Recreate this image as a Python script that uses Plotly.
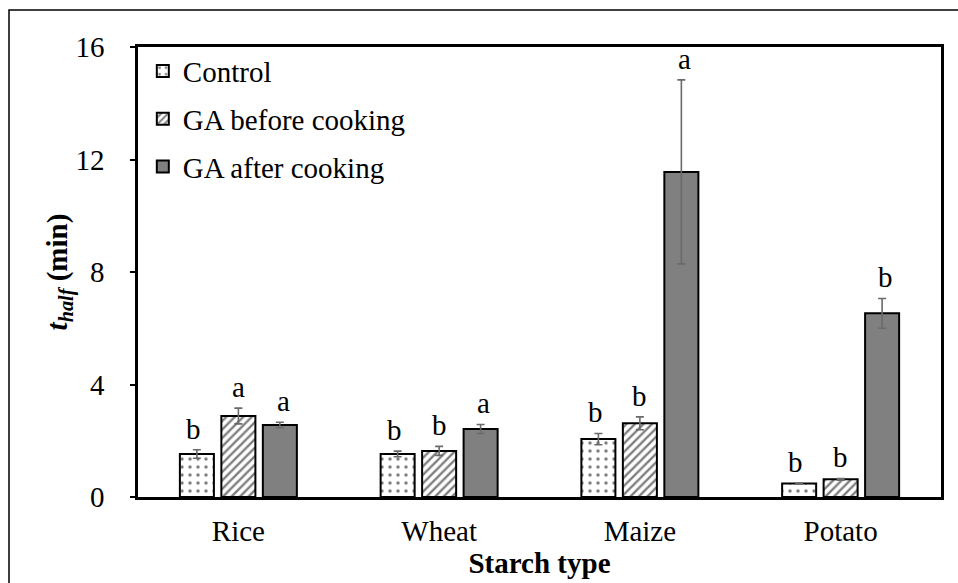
import plotly.graph_objects as go

# Starch digestion half-time by starch type and gum arabic treatment
starch_types = ["Rice", "Wheat", "Maize", "Potato"]
series_names = ["Control", "GA before cooking", "GA after cooking"]

control_vals = [1.53, 1.53, 2.06, 0.48]
control_err = [0.15, 0.10, 0.20, 0.02]
before_vals = [2.88, 1.64, 2.62, 0.63]
before_err = [0.28, 0.16, 0.23, 0.03]
after_vals = [2.56, 2.42, 11.56, 6.53]
after_err = [0.10, 0.16, 3.27, 0.53]

control_letters = ["b", "b", "b", "b"]
before_letters = ["a", "b", "b", "b"]
after_letters = ["a", "a", "a", "b"]

y_ticks = [0, 4, 8, 12, 16]

FONT = "Liberation Serif"
FS = 29
ERR_COLOR = "#6a6a6a"

styles = [
    dict(color="white", pattern=dict(shape=".", fgcolor="black", bgcolor="white", size=8, solidity=0.14)),
    dict(color="white", pattern=dict(shape="/", fgcolor="black", bgcolor="white", size=6, solidity=0.4)),
    dict(color="#808080"),
]

values = [control_vals, before_vals, after_vals]
errors = [control_err, before_err, after_err]
letters = [control_letters, before_letters, after_letters]

fig = go.Figure()
for i, name in enumerate(series_names):
    fig.add_trace(go.Bar(
        x=starch_types,
        y=values[i],
        name=name,
        legendgroup=name,
        marker=dict(line=dict(color="black", width=2), **styles[i]),
        error_y=dict(type="data", array=errors[i], color=ERR_COLOR, thickness=1.6, width=4),
    ))

# significance letters above each bar
offsets = [-44.7, 0, 44.7]
for i in range(3):
    for j, cat in enumerate(starch_types):
        fig.add_annotation(
            x=cat, y=values[i][j] + errors[i][j], xref="x", yref="y",
            text=letters[i][j], showarrow=False,
            xshift=offsets[i], yanchor="bottom", yshift=3,
            font=dict(family=FONT, size=FS, color="black"),
        )

# outer frame of the figure
fig.add_shape(type="rect", xref="paper", yref="paper",
              x0=(9 - 138) / 803, x1=(962 - 138) / 803,
              y0=(497 - 590) / 450, y1=1 + (47 - 10) / 450,
              line=dict(color="black", width=1.5), fillcolor="rgba(0,0,0,0)", layer="below")

fig.update_layout(
    width=958, height=583,
    margin=dict(l=138, r=17, t=47, b=86),
    paper_bgcolor="white", plot_bgcolor="white",
    barmode="group", bargap=0.38, bargroupgap=0.18,
    font=dict(family=FONT, size=FS, color="black"),
    showlegend=True,
    legend=dict(x=0.006, y=1.003, xanchor="left", yanchor="top",
                bgcolor="rgba(0,0,0,0)", traceorder="grouped", tracegroupgap=7,
                font=dict(family=FONT, size=FS, color="black"),
                itemclick=False),
    xaxis=dict(
        showline=True, linecolor="black", linewidth=2.5, mirror=True,
        ticks="", showgrid=False,
        tickfont=dict(family=FONT, size=FS, color="black"),
        ticklabelstandoff=6,
        title=dict(text="<b>Starch type</b>", standoff=2,
                   font=dict(family=FONT, size=FS, color="black")),
    ),
    yaxis=dict(
        range=[0, 16], tickvals=y_ticks, ticktext=[str(t) for t in y_ticks],
        showline=True, linecolor="black", linewidth=2.5, mirror=True,
        ticks="outside", ticklen=5, tickcolor="black", tickwidth=1.5,
        showgrid=False, zeroline=False,
        tickfont=dict(family=FONT, size=FS, color="black"),
        ticklabelstandoff=20,
        title=dict(text="<b><i>t</i><sub><i>half</i></sub> (min)</b>", standoff=0,
                   font=dict(family=FONT, size=FS, color="black")),
    ),
)

fig.write_html("out.html")
